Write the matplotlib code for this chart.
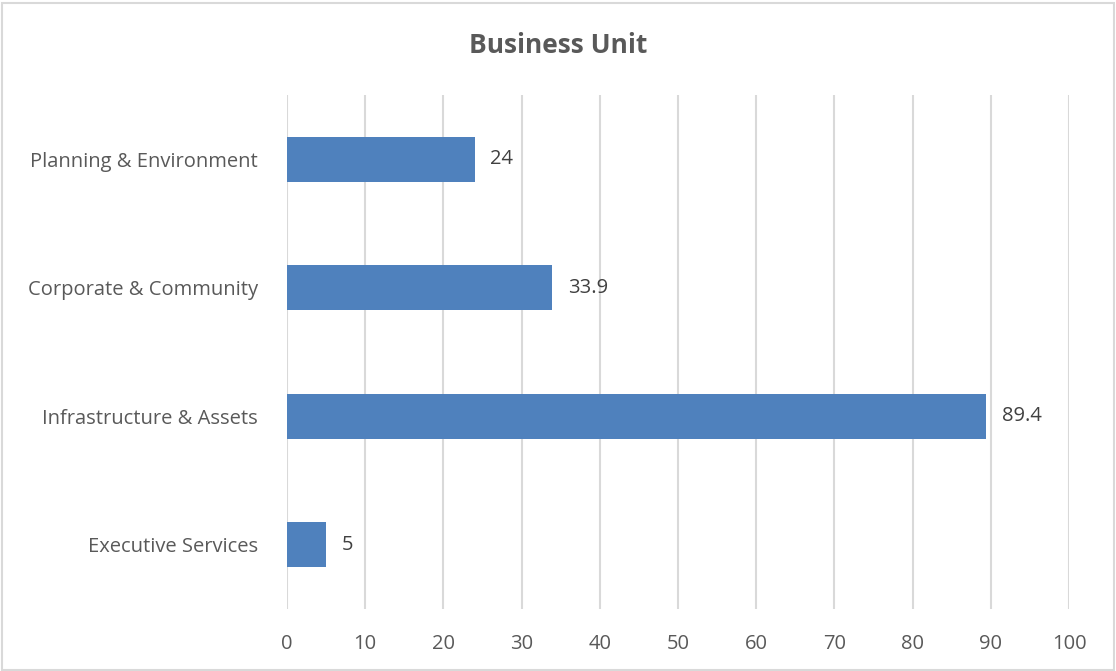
import matplotlib
matplotlib.use("Agg")
import matplotlib.pyplot as plt
from matplotlib.patches import Rectangle

categories = ["Executive Services", "Infrastructure & Assets", "Corporate & Community", "Planning & Environment"]
values = [5, 89.4, 33.9, 24]
value_labels = ["5", "89.4", "33.9", "24"]
x_ticks = list(range(0, 101, 10))

plt.rcParams["font.family"] = ["Open Sans", "DejaVu Sans"]
text_color = "#595959"
bar_color = "#4F81BD"

fig = plt.figure(figsize=(11.16, 6.71), dpi=100)
ax = fig.add_axes([0.2572, 0.0924, 0.7007, 0.766])

ypos = list(range(len(categories)))
ax.barh(ypos, values, height=0.35, color=bar_color, zorder=3)
for y, v, lab in zip(ypos, values, value_labels):
    ax.text(v + 2, y, lab, va="center", ha="left", fontsize=14.5, color="#404040")

ax.set_xlim(0, 100)
ax.set_ylim(-0.5, len(categories) - 0.5)
ax.set_xticks(x_ticks)
ax.set_xticklabels([str(t) for t in x_ticks], fontsize=14.5, color=text_color)
ax.set_yticks(ypos)
ax.set_yticklabels(categories, fontsize=14.5, color=text_color)
ax.tick_params(axis="both", length=0)
ax.tick_params(axis="x", pad=18)
ax.tick_params(axis="y", pad=21)
ax.grid(axis="x", color="#D9D9D9", linewidth=1.5, zorder=0)
for s in ax.spines.values():
    s.set_visible(False)

fig.text(0.5, 0.932, "Business Unit", ha="center", va="center",
         fontsize=19, fontweight="bold", color=text_color)

fig.patches.append(Rectangle((0.002, 0.002), 0.996, 0.994, transform=fig.transFigure,
                             fill=False, edgecolor="#D9D9D9", linewidth=1.5))

fig.savefig("out.png", dpi=100)
